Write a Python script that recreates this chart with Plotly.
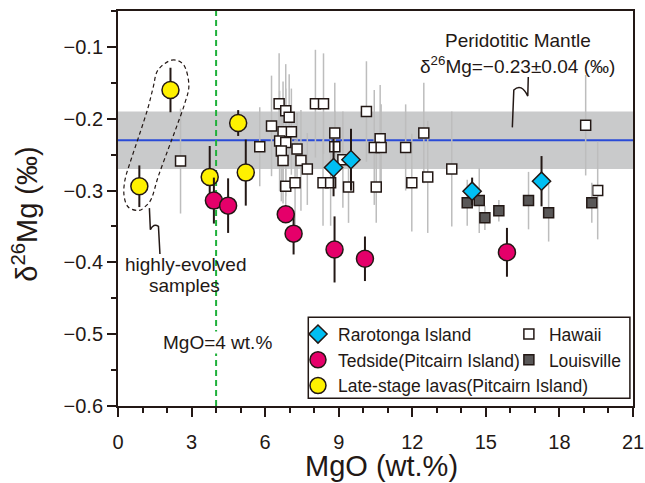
import plotly.graph_objects as go

# ---------------- data ----------------
raro_mgo = [8.79, 9.50, 14.44, 17.27]
raro_d26 = [-0.268, -0.257, -0.301, -0.287]
raro_err = [0.040, 0.043, 0.019, 0.035]

ted_mgo = [3.91, 4.49, 6.84, 7.16, 8.83, 10.07, 15.86]
ted_d26 = [-0.314, -0.321, -0.333, -0.360, -0.382, -0.395, -0.386]
ted_err = [0.032, 0.038, 0.010, 0.029, 0.046, 0.031, 0.034]

late_mgo = [0.87, 2.14, 3.74, 4.90, 5.21]
late_d26 = [-0.294, -0.160, -0.281, -0.206, -0.275]
late_err = [0.029, 0.031, 0.043, 0.018, 0.046]

hawaii_mgo = [2.55, 5.78, 6.26, 6.57, 6.84, 6.98, 6.73, 7.07, 6.59, 6.84,
              6.66, 7.30, 6.73, 7.46, 7.72, 6.84, 7.22, 8.05, 8.38, 8.84,
              8.84, 8.36, 8.67, 9.40, 9.17, 10.13, 10.69, 10.45, 10.73, 10.53,
              11.73, 11.98, 12.47, 12.63, 13.61, 19.07, 19.56]
hawaii_d26 = [-0.259, -0.239, -0.210, -0.179, -0.189, -0.198, -0.218, -0.218, -0.231, -0.233,
              -0.245, -0.242, -0.258, -0.258, -0.270, -0.294, -0.289, -0.179, -0.179, -0.220,
              -0.239, -0.289, -0.289, -0.295, -0.257, -0.190, -0.228, -0.240, -0.240, -0.295,
              -0.240, -0.289, -0.220, -0.281, -0.270, -0.209, -0.300]
hawaii_err = [0.073, 0.055, 0.070, 0.070, 0.065, 0.060, 0.070, 0.060, 0.070, 0.075,
              0.070, 0.050, 0.060, 0.070, 0.050, 0.050, 0.060, 0.075, 0.070, 0.070,
              0.050, 0.060, 0.060, 0.050, 0.067, 0.070, 0.075, 0.080, 0.060, 0.050,
              0.060, 0.068, 0.070, 0.078, 0.080, 0.070, 0.068]

louis_mgo = [14.24, 14.73, 14.96, 15.53, 16.74, 17.56, 19.32]
louis_d26 = [-0.317, -0.314, -0.338, -0.328, -0.314, -0.331, -0.317]
louis_err = [0.032, 0.045, 0.017, 0.015, 0.040, 0.040, 0.028]

mantle_mean = -0.23
mantle_sd = 0.04
mgo_cut = 4

x_ticks = [0, 3, 6, 9, 12, 15, 18, 21]
x_ticktext = ["0", "3", "6", "9", "12", "15", "18", "21"]
y_ticks = [-0.6, -0.5, -0.4, -0.3, -0.2, -0.1]
y_ticktext = ["\u22120.6", "\u22120.5", "\u22120.4", "\u22120.3", "\u22120.2", "\u22120.1"]

# ---------------- styles ----------------
INK = "#231815"
FONT = "Liberation Sans, Arial, Helvetica, sans-serif"
GREY_BAR = "#bdbdbd"

fig = go.Figure()

fig.add_trace(go.Scatter(
    x=hawaii_mgo, y=hawaii_d26, mode="markers", name="Hawaii",
    legend="legend2", legendrank=1,
    error_y=dict(type="data", array=hawaii_err, color=GREY_BAR, thickness=1.5, width=0),
    marker=dict(symbol="square", size=10, color="white", line=dict(color=INK, width=1.5)),
))
fig.add_trace(go.Scatter(
    x=louis_mgo, y=louis_d26, mode="markers", name="Louisville",
    legend="legend2", legendrank=2,
    error_y=dict(type="data", array=louis_err, color=GREY_BAR, thickness=1.5, width=0),
    marker=dict(symbol="square", size=10, color="#595757", line=dict(color=INK, width=1.5)),
))
fig.add_trace(go.Scatter(
    x=late_mgo, y=late_d26, mode="markers", name="Late-stage lavas(Pitcairn Island)",
    legend="legend", legendrank=3,
    error_y=dict(type="data", array=late_err, color=INK, thickness=2, width=0),
    marker=dict(symbol="circle", size=17, color="#FFF100", line=dict(color=INK, width=1.5)),
))
fig.add_trace(go.Scatter(
    x=ted_mgo, y=ted_d26, mode="markers", name="Tedside(Pitcairn Island)",
    legend="legend", legendrank=2,
    error_y=dict(type="data", array=ted_err, color=INK, thickness=2, width=0),
    marker=dict(symbol="circle", size=17, color="#E5006A", line=dict(color=INK, width=1.5)),
))
fig.add_trace(go.Scatter(
    x=raro_mgo, y=raro_d26, mode="markers", name="Rarotonga Island",
    legend="legend", legendrank=1,
    error_y=dict(type="data", array=raro_err, color=INK, thickness=2, width=0),
    marker=dict(symbol="diamond", size=14, color="#00BFF3", line=dict(color=INK, width=1.5)),
))

shapes = []
# mantle band and mean line
shapes.append(dict(type="rect", xref="paper", yref="y", x0=0, x1=1,
                   y0=mantle_mean - mantle_sd, y1=mantle_mean + mantle_sd,
                   fillcolor="#c9cacb", line=dict(width=0), layer="below"))
shapes.append(dict(type="line", xref="paper", yref="y", x0=0, x1=1,
                   y0=mantle_mean, y1=mantle_mean,
                   line=dict(color="#2a4bd7", width=2), layer="below"))
# MgO = 4 wt.% dashed line
shapes.append(dict(type="line", xref="x", yref="paper", x0=mgo_cut, x1=mgo_cut, y0=0, y1=1,
                   line=dict(color="#1fb03a", width=2, dash="6px,4px"), layer="below"))


def smooth_closed(pts):
    n = len(pts)
    d = "M %.4f,%.4f" % pts[0]
    for i in range(n):
        p0 = pts[(i - 1) % n]
        p1 = pts[i]
        p2 = pts[(i + 1) % n]
        p3 = pts[(i + 2) % n]
        c1 = (p1[0] + (p2[0] - p0[0]) / 6, p1[1] + (p2[1] - p0[1]) / 6)
        c2 = (p2[0] - (p3[0] - p1[0]) / 6, p2[1] - (p3[1] - p1[1]) / 6)
        d += " C %.4f,%.4f %.4f,%.4f %.4f,%.4f" % (c1[0], c1[1], c2[0], c2[1], p2[0], p2[1])
    return d + " Z"


loop = [(2.186, -0.1185), (2.686, -0.1254), (2.890, -0.1532), (2.727, -0.1782),
        (2.389, -0.2111), (2.035, -0.2435), (1.640, -0.2806), (1.372, -0.3106),
        (1.099, -0.3226), (0.826, -0.3278), (0.407, -0.3226), (0.244, -0.3060),
        (0.285, -0.2851), (0.488, -0.2615), (0.895, -0.2199), (1.221, -0.1851),
        (1.437, -0.1560), (1.628, -0.1324)]
shapes.append(dict(type="path", xref="x", yref="y", path=smooth_closed(loop),
                   line=dict(color=INK, width=1.2, dash="4px,3px"), layer="above"))

# zigzag leader for highly-evolved samples
shapes.append(dict(type="path", xref="x", yref="y",
                   path="M 1.28,-0.3245 L 1.32,-0.3546 Q 1.45,-0.345 1.65,-0.350 L 1.71,-0.3883",
                   line=dict(color=INK, width=1.5), layer="above"))
# zigzag leader for mantle label
shapes.append(dict(type="path", xref="x", yref="y",
                   path="M 16.73,-0.142 L 16.71,-0.1685 Q 16.45,-0.150 16.14,-0.160 L 16.08,-0.212",
                   line=dict(color=INK, width=1.5), layer="above"))

# legend frame
shapes.append(dict(type="rect", xref="paper", yref="paper", x0=0.3695, x1=0.994,
                   y0=0.0195, y1=0.2246, fillcolor="white",
                   line=dict(color=INK, width=1.5), layer="above"))

annotations = [
    dict(x=16.32, y=-0.0907, xref="x", yref="y", text="Peridotitic Mantle", showarrow=False,
         font=dict(size=19, color=INK, family=FONT)),
    dict(x=16.27, y=-0.1254, xref="x", yref="y",
         text="\u03b4<sup>26</sup>Mg=\u22120.23\u00b10.04 (\u2030)", showarrow=False,
         font=dict(size=19, color=INK, family=FONT)),
    dict(x=2.75, y=-0.4032, xref="x", yref="y", text="highly-evolved", showarrow=False,
         font=dict(size=19, color=INK, family=FONT)),
    dict(x=2.71, y=-0.4324, xref="x", yref="y", text="samples", showarrow=False,
         font=dict(size=19, color=INK, family=FONT)),
    dict(x=4.05, y=-0.511, xref="x", yref="y", text="MgO=4 wt.%", showarrow=False,
         bgcolor="white", borderpad=0, font=dict(size=19, color=INK, family=FONT)),
    # y-axis title
    dict(x=-0.18, y=0.485, xref="paper", yref="paper", xanchor="center", yanchor="middle",
         text="\u03b4<sup>26</sup>Mg (\u2030)", textangle=-90, showarrow=False,
         font=dict(size=29, color=INK, family=FONT)),
    # x-axis title
    dict(x=0.512, y=-0.152, xref="paper", yref="paper", xanchor="center", yanchor="middle",
         text="MgO (wt.%)", showarrow=False,
         font=dict(size=29, color=INK, family=FONT)),
]

fig.update_layout(
    width=645, height=483,
    margin=dict(l=118, r=12, t=11, b=77, autoexpand=False),
    plot_bgcolor="white", paper_bgcolor="white",
    font=dict(family=FONT, color=INK, size=20),
    shapes=shapes, annotations=annotations,
    showlegend=True,
    legend=dict(x=0.3495, y=0.2274, xanchor="left", yanchor="top", bgcolor="rgba(0,0,0,0)",
                borderwidth=0, font=dict(size=17.5, color=INK, family=FONT),
                itemsizing="trace", tracegroupgap=0),
    legend2=dict(x=0.759, y=0.2274, xanchor="left", yanchor="top", bgcolor="rgba(0,0,0,0)",
                 borderwidth=0, font=dict(size=17.5, color=INK, family=FONT),
                 itemsizing="trace", tracegroupgap=0),
    xaxis=dict(range=[0, 21], tickvals=x_ticks, ticktext=x_ticktext,
               showline=True, linecolor=INK, linewidth=2, mirror=True,
               ticks="outside", ticklen=9, tickwidth=1.5, tickcolor=INK,
               ticklabelstandoff=8,
               minor=dict(tick0=0, dtick=1, ticks="outside", ticklen=5, tickwidth=1.5,
                          tickcolor=INK, showgrid=False),
               showgrid=False, zeroline=False,
               tickfont=dict(size=20, color=INK, family=FONT)),
    yaxis=dict(range=[-0.6, -0.05], tickvals=y_ticks, ticktext=y_ticktext,
               showline=True, linecolor=INK, linewidth=2, mirror=True,
               ticks="outside", ticklen=9, tickwidth=1.5, tickcolor=INK,
               minor=dict(tick0=-0.6, dtick=0.05, ticks="outside", ticklen=5, tickwidth=1.5,
                          tickcolor=INK, showgrid=False),
               showgrid=False, zeroline=False,
               tickfont=dict(size=20, color=INK, family=FONT)),
)

fig.write_html("out.html", config={"displayModeBar": False},
               post_script="document.body.style.margin='0';document.body.style.overflow='hidden';")
